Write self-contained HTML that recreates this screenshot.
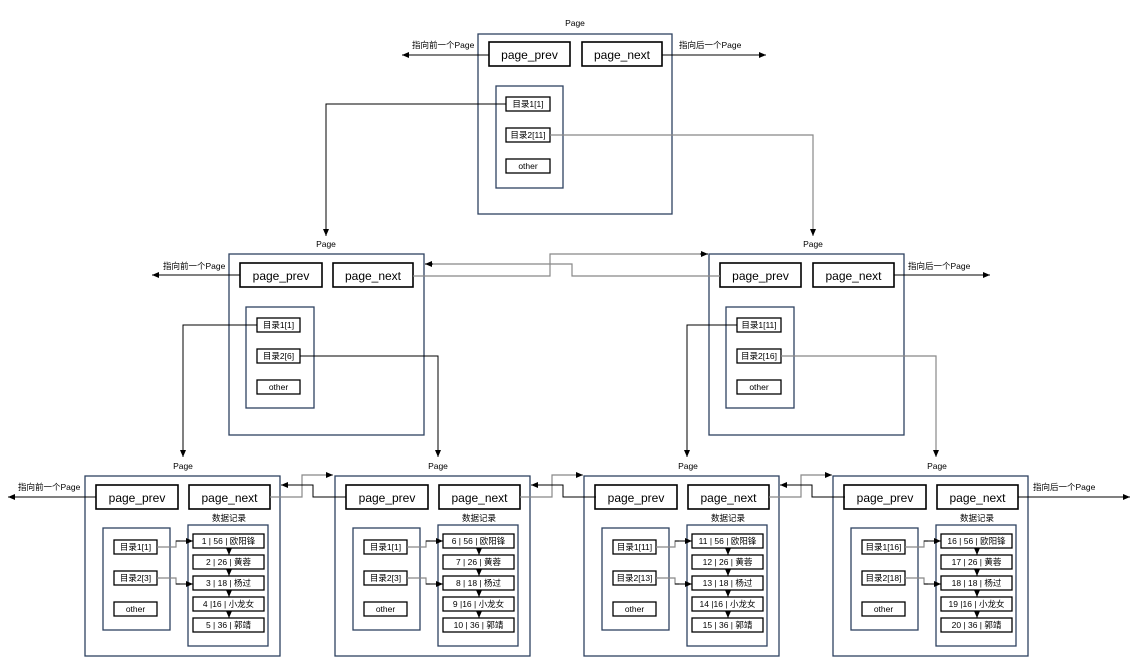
<!DOCTYPE html>
<html><head><meta charset="utf-8"><style>
html,body{margin:0;padding:0;background:#fff;}
svg{display:block;font-family:"Liberation Sans","Noto Sans CJK SC",sans-serif;}
.f{fill:none;stroke:#2e4260;stroke-width:1.3}
.b{fill:#fff;stroke:#000;stroke-width:1.6}
.s{fill:#fff;stroke:#000;stroke-width:1.3}
.l{fill:none;stroke:#000;stroke-width:1}
.g{fill:none;stroke:#888;stroke-width:1.2}
.t{font-size:12px;text-anchor:middle;fill:#000}
.tb{font-size:8.5px;text-anchor:middle;fill:#000}
.tl{font-size:8.5px;fill:#000}
</style></head><body>
<svg width="1141" height="659" viewBox="0 0 1141 659">
<defs><marker id="a" markerWidth="8" markerHeight="8" refX="7" refY="4" orient="auto" markerUnits="userSpaceOnUse"><path d="M0,1 L7,4 L0,7z" fill="#000"/></marker></defs>

<!-- top page -->
<text class="tb" x="575" y="26">Page</text>
<rect class="f" x="478" y="34" width="194" height="180"/>
<rect class="b" x="489" y="42" width="81" height="24"/><text class="t" x="529.5" y="59">page_prev</text>
<rect class="b" x="582" y="42" width="80" height="24"/><text class="t" x="622" y="59">page_next</text>
<rect class="f" x="496" y="86" width="67" height="102"/>
<rect class="s" x="506" y="97" width="44" height="14"/><text class="tb" x="528" y="107">目录1[1]</text>
<rect class="s" x="506" y="128" width="44" height="14"/><text class="tb" x="528" y="138">目录2[11]</text>
<rect class="s" x="506" y="159" width="44" height="14"/><text class="tb" x="528" y="169">other</text>
<line class="l" x1="489" y1="55" x2="402" y2="55" stroke-width="1.6" marker-end="url(#a)"/>
<text class="tl" x="412" y="48">指向前一个Page</text>
<line class="l" x1="662" y1="55" x2="766" y2="55" stroke-width="1.6" marker-end="url(#a)"/>
<text class="tl" x="679" y="48">指向后一个Page</text>
<polyline class="l" points="506,104 326,104 326,236" marker-end="url(#a)"/>
<polyline class="g" points="550,135 813,135 813,236" marker-end="url(#a)"/>

<!-- middle left -->
<text class="tb" x="326" y="247">Page</text>
<rect class="f" x="229" y="254" width="195" height="181"/>
<rect class="b" x="240" y="263" width="82" height="24"/><text class="t" x="281" y="280">page_prev</text>
<rect class="b" x="333" y="263" width="80" height="24"/><text class="t" x="373" y="280">page_next</text>
<rect class="f" x="246" y="307" width="68" height="101"/>
<rect class="s" x="257" y="318" width="43" height="14"/><text class="tb" x="278.5" y="328">目录1[1]</text>
<rect class="s" x="257" y="349" width="43" height="14"/><text class="tb" x="278.5" y="359">目录2[6]</text>
<rect class="s" x="257" y="380" width="43" height="14"/><text class="tb" x="278.5" y="390">other</text>
<line class="l" x1="240" y1="275" x2="152" y2="275" stroke-width="1.6" marker-end="url(#a)"/>
<text class="tl" x="163" y="269">指向前一个Page</text>
<polyline class="l" points="257,325 183,325 183,457" marker-end="url(#a)"/>
<polyline class="l" points="300,356 438,356 438,457" marker-end="url(#a)"/>

<!-- middle right -->
<text class="tb" x="813" y="247">Page</text>
<rect class="f" x="709" y="254" width="195" height="181"/>
<rect class="b" x="720" y="263" width="81" height="24"/><text class="t" x="760.5" y="280">page_prev</text>
<rect class="b" x="813" y="263" width="81" height="24"/><text class="t" x="853.5" y="280">page_next</text>
<rect class="f" x="726" y="307" width="68" height="101"/>
<rect class="s" x="737" y="318" width="44" height="14"/><text class="tb" x="759" y="328">目录1[11]</text>
<rect class="s" x="737" y="349" width="44" height="14"/><text class="tb" x="759" y="359">目录2[16]</text>
<rect class="s" x="737" y="380" width="44" height="14"/><text class="tb" x="759" y="390">other</text>
<line class="l" x1="894" y1="275" x2="990" y2="275" stroke-width="1.6" marker-end="url(#a)"/>
<text class="tl" x="908" y="269">指向后一个Page</text>
<polyline class="l" points="737,325 687,325 687,457" marker-end="url(#a)"/>
<polyline class="g" points="781,356 936,356 936,457" marker-end="url(#a)"/>

<!-- middle links -->
<polyline class="g" points="413,276 550,276 550,254 708,254" marker-end="url(#a)"/>
<polyline class="g" points="720,276 572,276 572,264 425,264" marker-end="url(#a)"/>
<line class="l" x1="700" y1="254" x2="708" y2="254"/>
<line class="l" x1="425" y1="264" x2="433" y2="264"/>

<!-- bottom pages -->
<text class="tb" x="183" y="469">Page</text>
<text class="tb" x="438" y="469">Page</text>
<text class="tb" x="688" y="469">Page</text>
<text class="tb" x="937" y="469">Page</text>
<g id="p1">
<rect class="f" x="85" y="476" width="195" height="180"/>
<rect class="b" x="96" y="485" width="82" height="24"/><text class="t" x="137" y="502">page_prev</text>
<rect class="b" x="189" y="485" width="81" height="24"/><text class="t" x="229.5" y="502">page_next</text>
<rect class="f" x="103" y="528" width="67" height="102"/>
<rect class="s" x="114" y="540" width="43" height="14"/>
<rect class="s" x="114" y="571" width="43" height="14"/>
<rect class="s" x="114" y="602" width="43" height="14"/><text class="tb" x="135.5" y="612">other</text>
<text class="tb" x="229" y="521">数据记录</text>
<rect class="f" x="188" y="525" width="80" height="121"/>
<rect class="s" x="193" y="534" width="71" height="14"/>
<rect class="s" x="193" y="555" width="71" height="14"/>
<rect class="s" x="193" y="576" width="71" height="14"/>
<rect class="s" x="193" y="597" width="71" height="14"/>
<rect class="s" x="193" y="618" width="71" height="14"/>
<line class="l" x1="229" y1="548" x2="229" y2="555" marker-end="url(#a)"/>
<line class="l" x1="229" y1="569" x2="229" y2="576" marker-end="url(#a)"/>
<line class="l" x1="229" y1="590" x2="229" y2="597" marker-end="url(#a)"/>
<line class="l" x1="229" y1="611" x2="229" y2="618" marker-end="url(#a)"/>
<polyline class="g" points="157,547 176,547 176,541 180,541"/>
<polyline class="l" points="176,541 193,541" marker-end="url(#a)"/>
<polyline class="g" points="157,578 176,578 176,584 180,584"/>
<polyline class="l" points="176,584 193,584" marker-end="url(#a)"/>
</g>
<use href="#p1" x="250"/>
<use href="#p1" x="499"/>
<use href="#p1" x="748"/>

<g class="tb">
<text x="135.5" y="550">目录1[1]</text><text x="135.5" y="581">目录2[3]</text>
<text x="228.5" y="544">1 | 56 | 欧阳锋</text><text x="228.5" y="565">2 | 26 | 黄蓉</text><text x="228.5" y="586">3 | 18 | 杨过</text><text x="228.5" y="607">4 |16 | 小龙女</text><text x="228.5" y="628">5 | 36 | 郭靖</text>
<text x="385.5" y="550">目录1[1]</text><text x="385.5" y="581">目录2[3]</text>
<text x="478.5" y="544">6 | 56 | 欧阳锋</text><text x="478.5" y="565">7 | 26 | 黄蓉</text><text x="478.5" y="586">8 | 18 | 杨过</text><text x="478.5" y="607">9 |16 | 小龙女</text><text x="478.5" y="628">10 | 36 | 郭靖</text>
<text x="634.5" y="550">目录1[11]</text><text x="634.5" y="581">目录2[13]</text>
<text x="727.5" y="544">11 | 56 | 欧阳锋</text><text x="727.5" y="565">12 | 26 | 黄蓉</text><text x="727.5" y="586">13 | 18 | 杨过</text><text x="727.5" y="607">14 |16 | 小龙女</text><text x="727.5" y="628">15 | 36 | 郭靖</text>
<text x="883.5" y="550">目录1[16]</text><text x="883.5" y="581">目录2[18]</text>
<text x="976.5" y="544">16 | 56 | 欧阳锋</text><text x="976.5" y="565">17 | 26 | 黄蓉</text><text x="976.5" y="586">18 | 18 | 杨过</text><text x="976.5" y="607">19 |16 | 小龙女</text><text x="976.5" y="628">20 | 36 | 郭靖</text>
</g>

<!-- bottom links -->
<line class="l" x1="96" y1="497" x2="8" y2="497" stroke-width="1.6" marker-end="url(#a)"/>
<text class="tl" x="18" y="490">指向前一个Page</text>
<line class="l" x1="1018" y1="497" x2="1130" y2="497" stroke-width="1.6" marker-end="url(#a)"/>
<text class="tl" x="1033" y="490">指向后一个Page</text>
<g id="lk">
<polyline class="g" points="270,497 302,497 302,475 333,475" marker-end="url(#a)"/>
<polyline class="l" points="346,497 313,497 313,485 281,485" marker-end="url(#a)"/>
</g>
<use href="#lk" x="250"/>
<use href="#lk" x="499"/>
</svg>
</body></html>
